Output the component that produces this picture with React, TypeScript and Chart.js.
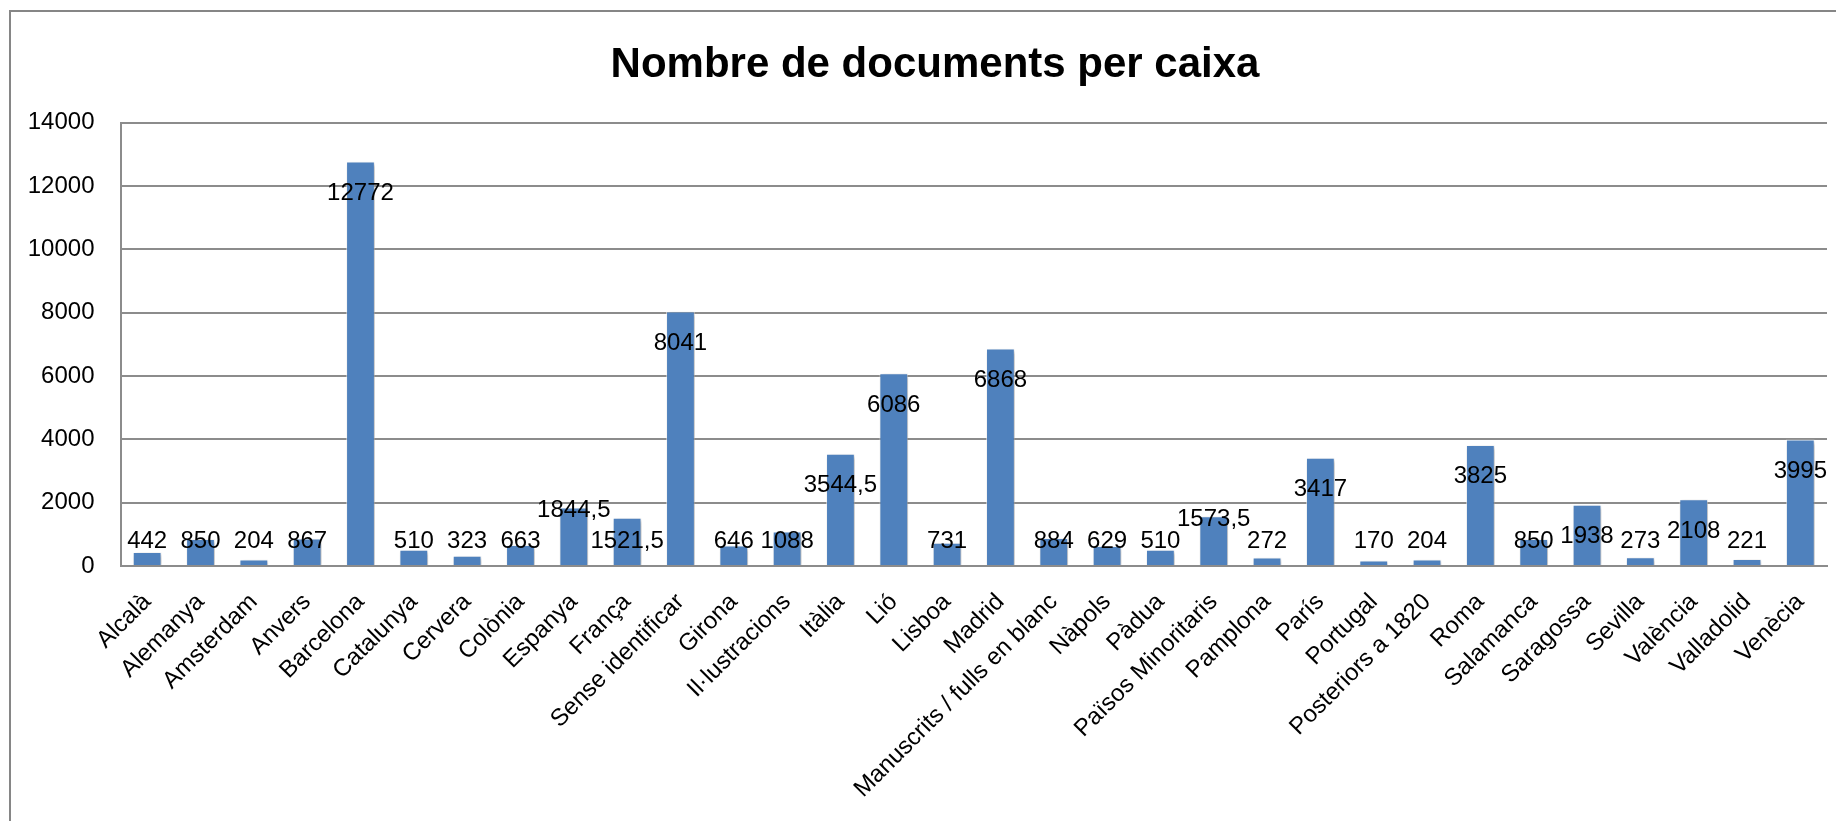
import React, { useEffect, useRef } from "react";
import { Chart, registerables } from "chart.js";

Chart.register(...registerables);

const TITLE = "Nombre de documents per caixa";

const categories = [
  "Alcalà", "Alemanya", "Amsterdam", "Anvers", "Barcelona", "Catalunya", "Cervera", "Colònia",
  "Espanya", "França", "Sense identificar", "Girona", "Il·lustracions", "Itàlia", "Lió", "Lisboa",
  "Madrid", "Manuscrits / fulls en blanc", "Nàpols", "Pàdua", "Països Minoritaris", "Pamplona",
  "París", "Portugal", "Posteriors a 1820", "Roma", "Salamanca", "Saragossa", "Sevilla",
  "València", "Valladolid", "Venècia",
];

const values = [
  442, 850, 204, 867, 12772, 510, 323, 663,
  1844.5, 1521.5, 8041, 646, 1088, 3544.5, 6086, 731,
  6868, 884, 629, 510, 1573.5, 272,
  3417, 170, 204, 3825, 850, 1938, 273,
  2108, 221, 3995,
];

// labels that sit at the top of their bar instead of inside it
const raisedLabels = ["Espanya", "Països Minoritaris"];

const yMin = 0;
const yMax = 14000;
const yStep = 2000;

const FONT = "'Liberation Sans', Arial, sans-serif";
const BAR = "#4F81BD";
const GRID = "#8c8c8c";

const fmt = (v: number) => String(v).replace(".", ",");

export default function App() {
  const ref = useRef<HTMLCanvasElement>(null);

  useEffect(() => {
    const canvas = ref.current;
    if (!canvas) return;

    const titlePlugin = {
      id: "customTitle",
      afterDraw(chart: any) {
        const ctx = chart.ctx;
        ctx.save();
        ctx.font = `bold 42px ${FONT}`;
        ctx.fillStyle = "#000";
        ctx.textAlign = "center";
        ctx.textBaseline = "alphabetic";
        ctx.fillText(TITLE, chart.width / 2, 65);
        ctx.restore();
      },
    };

    const shadowPlugin = {
      id: "barShadow",
      beforeDatasetsDraw(chart: any) {
        const ctx = chart.ctx;
        ctx.save();
        ctx.shadowColor = "rgba(0,0,0,0.28)";
        ctx.shadowBlur = 4;
        ctx.shadowOffsetX = 2;
        ctx.shadowOffsetY = 2;
      },
      afterDatasetsDraw(chart: any) {
        chart.ctx.restore();
      },
    };

    const labelPlugin = {
      id: "barLabels",
      afterDatasetsDraw(chart: any) {
        const ctx = chart.ctx;
        const meta = chart.getDatasetMeta(0);
        ctx.save();
        ctx.font = `24px ${FONT}`;
        ctx.fillStyle = "#000";
        ctx.textAlign = "center";
        ctx.textBaseline = "alphabetic";
        meta.data.forEach((bar: any, i: number) => {
          const { x, y, base } = bar.getProps(["x", "y", "base"], true);
          const raised = raisedLabels.includes(categories[i]);
          const cy = raised ? y + 1 : Math.min(y + 30, base - 26);
          ctx.fillText(fmt(values[i]), x, cy + 8.6);
        });
        ctx.restore();
      },
    };

    const chart = new Chart(canvas, {
      type: "bar",
      data: {
        labels: categories,
        datasets: [
          {
            data: values,
            backgroundColor: BAR,
            borderColor: "rgba(255,255,255,0.55)",
            borderWidth: 1,
            barPercentage: 0.54,
            categoryPercentage: 1,
          },
        ],
      },
      options: {
        responsive: false,
        animation: false,
        devicePixelRatio: 1,
        layout: { padding: { top: 110.7, right: 32, left: 0, bottom: 0 } },
        plugins: {
          legend: { display: false },
          title: { display: false },
          tooltip: { enabled: false },
        },
        scales: {
          x: {
            grid: { display: false },
            border: { display: true, color: GRID, width: 2 },
            ticks: {
              autoSkip: false,
              minRotation: 45,
              maxRotation: 45,
              color: "#000",
              font: { family: FONT, size: 24 },
              padding: 14,
            },
            afterFit(scale: any) {
              scale.height = 342;
            },
          },
          y: {
            min: yMin,
            max: yMax,
            ticks: {
              stepSize: yStep,
              color: "#000",
              font: { family: FONT, size: 24 },
              padding: 26,
              callback: (v: any) => String(v),
            },
            grid: { color: GRID, lineWidth: 2, drawTicks: false },
            border: { display: true, color: GRID, width: 2 },
            afterFit(scale: any) {
              scale.width = 109.5;
            },
          },
        },
      },
      plugins: [titlePlugin, shadowPlugin, labelPlugin],
    });

    return () => chart.destroy();
  }, []);

  return (
    <div style={{ position: "fixed", inset: 0, overflow: "hidden", background: "#fff" }}>
      <div
        style={{
          position: "absolute",
          left: 9,
          top: 10,
          width: 1852,
          height: 900,
          border: "2px solid #868686",
          boxSizing: "border-box",
          background: "#fff",
        }}
      >
        <canvas ref={ref} width={1848} height={896} style={{ display: "block" }} />
      </div>
    </div>
  );
}
